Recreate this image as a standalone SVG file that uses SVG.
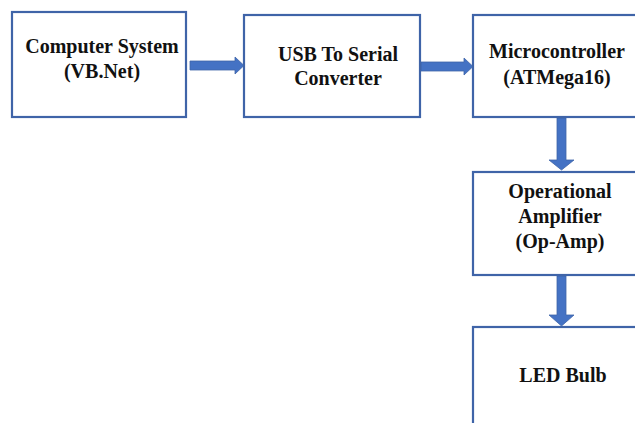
<svg xmlns="http://www.w3.org/2000/svg" width="635" height="423" viewBox="0 0 635 423">
<style>
.box{fill:#fff;stroke:#3f64a8;stroke-width:2.2}
.arr{fill:#4472c4;stroke:#3f64a8;stroke-width:0.8}
.t{font-family:'Liberation Serif','Times New Roman',Times,serif;font-weight:bold;font-size:20px;fill:#111;text-anchor:middle}
</style>
<rect width="635" height="423" fill="#fff"/>
<g id="connectors">
<path class="arr" d="M190,61 H235 V57 L244,65.5 L235,74 V70 H190 Z"/>
<path class="arr" d="M421,62 H464 V58 L473,66.5 L464,75 V71 H421 Z"/>
<path class="arr" d="M557,118 V160 H549 L561.5,170 L574,160 H566 V118 Z"/>
<path class="arr" d="M557,276 V315 H549 L561.5,326 L574,315 H566 V276 Z"/>
</g>
<g id="computer">
<rect class="box" x="12" y="12" width="174" height="105"/>
<text class="t" x="102" y="53">Computer System</text>
<text class="t" x="102" y="78">(VB.Net)</text>
</g>
<g id="usb">
<rect class="box" x="244" y="15" width="176" height="102"/>
<text class="t" x="338" y="61">USB To Serial</text>
<text class="t" x="338" y="85">Converter</text>
</g>
<g id="micro">
<rect class="box" x="473" y="15" width="170" height="102"/>
<text class="t" x="557" y="58">Microcontroller</text>
<text class="t" x="557" y="84">(ATMega16)</text>
</g>
<g id="opamp">
<rect class="box" x="473" y="172" width="170" height="103"/>
<text class="t" x="560" y="198">Operational</text>
<text class="t" x="560" y="223">Amplifier</text>
<text class="t" x="560" y="248">(Op-Amp)</text>
</g>
<g id="led">
<rect class="box" x="473" y="327" width="170" height="110"/>
<text class="t" x="563" y="382">LED Bulb</text>
</g>
</svg>
